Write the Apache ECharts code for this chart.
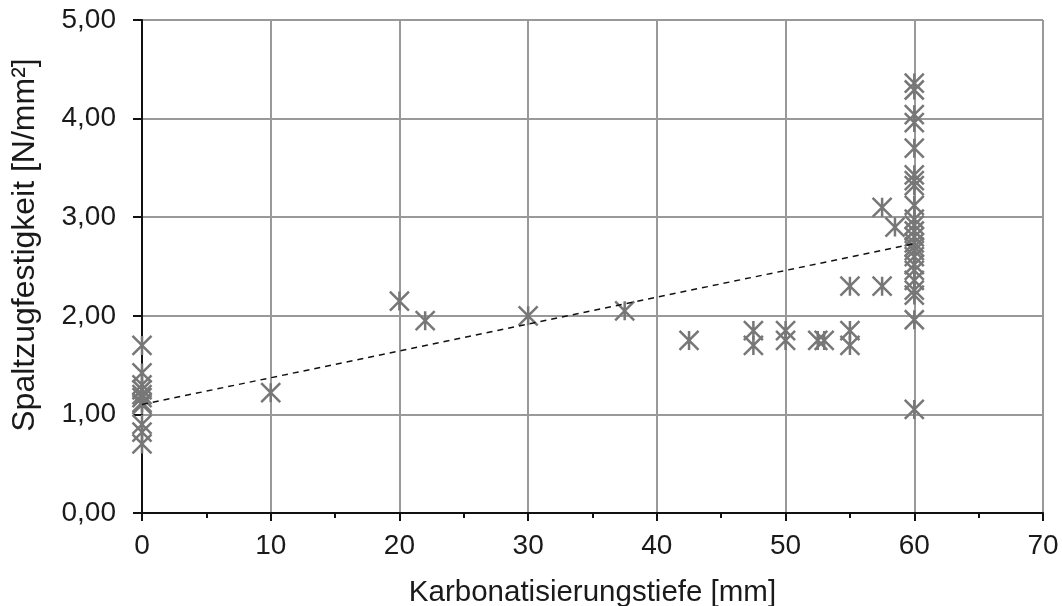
<!DOCTYPE html>
<html><head><meta charset="utf-8">
<script src="https://cdn.jsdelivr.net/npm/echarts@6/dist/echarts.min.js"></script>
<style>html,body{margin:0;padding:0;background:#fff}#c{width:1062px;height:606px}</style>
</head><body><div id="c"></div>
<script>
// Karbonatisierungstiefe [mm]
const depth = [
  0,0,0,0,0,0,0,0,0,0,0,
  10,20,22,30,37.5,42.5,47.5,47.5,50,50,52.5,53,55,55,55,57.5,57.5,58.5,
  60,60,60,60,60,60,60,60,60,60,60,60,60,60,60,60,60,60,60,60,60,60,60,60
];
// Spaltzugfestigkeit [N/mm²]
const strength = [
  1.70,1.42,1.30,1.25,1.20,1.17,1.12,1.10,0.90,0.82,0.70,
  1.22,2.15,1.95,2.00,2.05,1.75,1.85,1.70,1.85,1.75,1.75,1.75,2.30,1.85,1.70,3.10,2.30,2.90,
  4.36,4.29,4.04,3.96,3.70,3.43,3.37,3.32,3.12,2.98,2.92,2.86,2.80,2.74,2.70,2.60,2.46,2.36,2.26,2.21,1.96,1.05,2.66,2.52
];
const xTicks = [0,10,20,30,40,50,60,70];
const yTicks = [0,1,2,3,4,5];
const xTitle = 'Karbonatisierungstiefe [mm]';
const yTitle = 'Spaltzugfestigkeit [N/mm²]';

const pts = depth.map((x,i)=>[x,strength[i]]);
// linear least-squares trend line
const n = pts.length;
let sx=0,sy=0,sxx=0,sxy=0;
pts.forEach(([x,y])=>{sx+=x;sy+=y;sxx+=x*x;sxy+=x*y;});
const slope=(n*sxy-sx*sy)/(n*sxx-sx*sx);
const icpt=(sy-slope*sx)/n;
const xMin=Math.min(...depth), xMax=Math.max(...depth);
const trend=[[xMin,icpt+slope*xMin],[xMax,icpt+slope*xMax]];

const star='path://M0,0L10,10M10,0L0,10M5,0L5,10';
const font='Liberation Sans, Arial, sans-serif';
const chart=echarts.init(document.getElementById('c'));
chart.setOption({
  animation:false,
  grid:{left:142,right:19,top:20,bottom:93,containLabel:false,outerBoundsMode:'none'},
  graphic:[{type:'text',x:25,y:245,rotation:Math.PI/2,
    style:{text:yTitle,font:'32px '+font,fill:'#1a1a1a',align:'center',verticalAlign:'middle'}}],
  xAxis:{type:'value',min:xTicks[0],max:xTicks[xTicks.length-1],interval:10,
    name:xTitle,nameLocation:'middle',nameGap:65,
    nameTextStyle:{fontFamily:font,fontSize:29.5,color:'#1a1a1a'},
    axisLine:{onZero:false,lineStyle:{color:'#111',width:2}},
    axisTick:{show:true,length:8,lineStyle:{color:'#111',width:2}},
    minorTick:{show:true,splitNumber:2,length:5,lineStyle:{color:'#111',width:2}},
    splitLine:{show:true,lineStyle:{color:'#999',width:2}},
    axisLabel:{fontFamily:font,fontSize:28,color:'#1a1a1a',margin:19}
  },
  yAxis:{type:'value',min:yTicks[0],max:yTicks[yTicks.length-1],interval:1,
    axisLine:{show:true,onZero:false,lineStyle:{color:'#111',width:2}},
    axisTick:{show:true,length:9,lineStyle:{color:'#111',width:2}},
    splitLine:{show:true,lineStyle:{color:'#999',width:2}},
    axisLabel:{fontFamily:font,fontSize:28,color:'#1a1a1a',margin:26,
      formatter:v=>v.toFixed(2).replace('.',',')}
  },
  series:[
    {type:'scatter',data:pts,symbol:star,symbolSize:19,
      itemStyle:{color:'rgba(0,0,0,0)',borderColor:'#777',borderWidth:2.5,opacity:1},z:3},
    {type:'line',data:trend,symbol:'none',
      lineStyle:{color:'#111',width:1.5,type:[6,5]},z:4}
  ]
});
</script></body></html>
